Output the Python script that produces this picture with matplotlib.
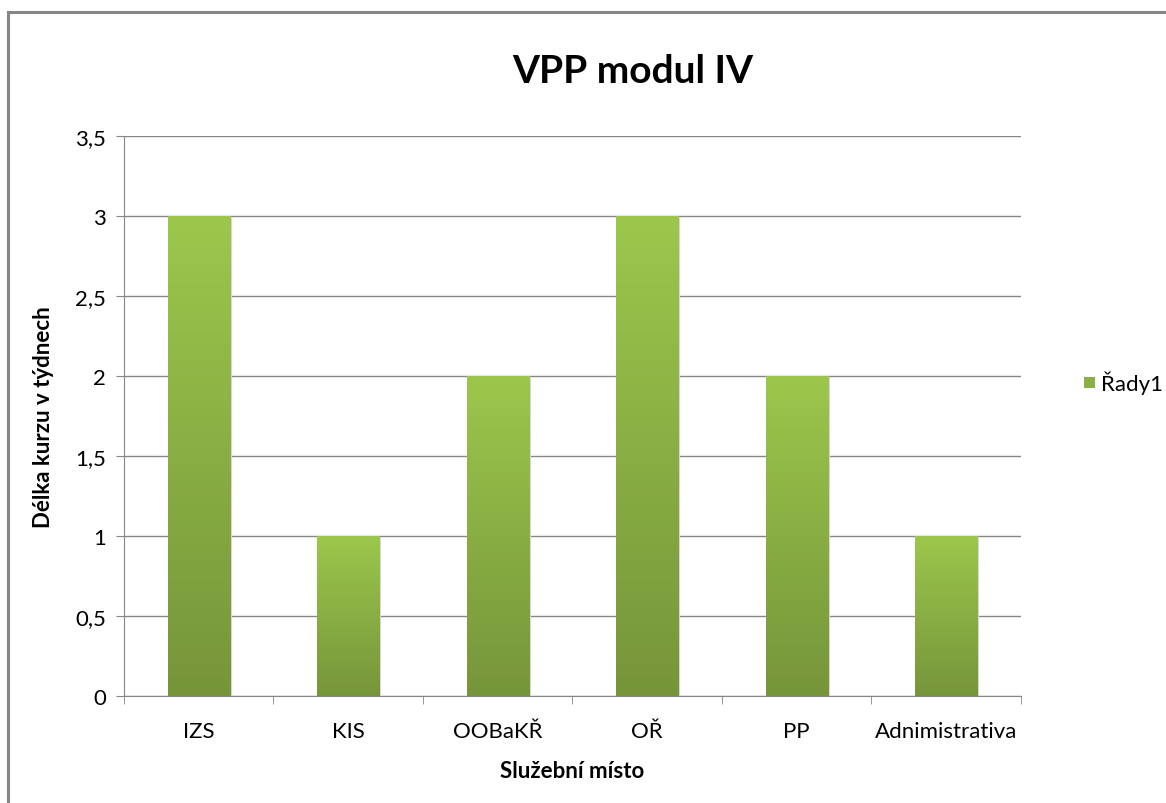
import numpy as np
import matplotlib.pyplot as plt
from matplotlib.colors import LinearSegmentedColormap
from matplotlib.patches import Rectangle

plt.rcParams['font.family'] = ['Lato', 'DejaVu Sans']

# Data
categories = ['IZS', 'KIS', 'OOBaKŘ', 'OŘ', 'PP', 'Adnimistrativa']
values = [3, 1, 2, 3, 2, 1]
series_name = 'Řady1'

fig = plt.figure(figsize=(11.66, 8.04), dpi=100)
ax = fig.add_axes([0.1063, 0.1331, 0.7693, 0.6965])

# outer chart border
fig.patches.append(Rectangle((8 / 1166, -0.1), 1.2, 1 - 13 / 804 + 0.1,
                             transform=fig.transFigure, fill=False,
                             edgecolor='#868686', linewidth=2.2, zorder=0))

x = np.arange(len(categories))
width = 0.415
cmap = LinearSegmentedColormap.from_list('grn', ['#76953a', '#9cc74c'])
grad = np.linspace(0, 1, 256).reshape(-1, 1)

bars = ax.bar(x, values, width, color='none', zorder=3)
for b in bars:
    x0, w, h = b.get_x(), b.get_width(), b.get_height()
    # soft shadow
    ax.add_patch(Rectangle((x0 + 0.012, -0.01), w, h, facecolor='#d6d6d6',
                           edgecolor='none', zorder=2))
    im = ax.imshow(grad, cmap=cmap, aspect='auto', origin='lower',
                   extent=(x0, x0 + w, 0, h), zorder=3)
    im.set_clip_path(b)

ax.set_xlim(-0.5, len(categories) - 0.5)
ax.set_ylim(0, 3.5)
yt = np.arange(0, 3.51, 0.5)
ax.set_yticks(yt)
ax.set_yticklabels([('%g' % v).replace('.', ',') for v in yt])
ax.set_xticks(x)
ax.set_xticklabels(categories)
ax.set_xticks(np.arange(-0.5, len(categories), 1), minor=True)
ax.tick_params(axis='x', which='major', length=0, pad=18, labelsize=16)
ax.tick_params(axis='x', which='minor', length=6, direction='out', color='#868686')
ax.tick_params(axis='y', length=6, direction='out', color='#868686', labelsize=16, pad=7)

ax.grid(axis='y', color='#868686', linewidth=1)
ax.set_axisbelow(True)
for s in ['top', 'right']:
    ax.spines[s].set_visible(False)
for s in ['left', 'bottom']:
    ax.spines[s].set_color('#868686')

fig.text(633 / 1166, 1 - 83 / 804, 'VPP modul IV', fontsize=28,
         fontweight='bold', ha='center', va='baseline')
ax.set_xlabel('Služební místo', fontsize=16, fontweight='bold', labelpad=14)
ax.set_ylabel('Délka kurzu v týdnech', fontsize=16, fontweight='bold', labelpad=15)

# legend
fig.patches.append(Rectangle((1084 / 1166, 1 - 389 / 804), 11 / 1166, 11 / 804,
                             transform=fig.transFigure, facecolor='#8ab043',
                             edgecolor='none'))
fig.text(1101 / 1166, 1 - 383 / 804, series_name, fontsize=16, va='center')

plt.savefig('out.png', dpi=100)
